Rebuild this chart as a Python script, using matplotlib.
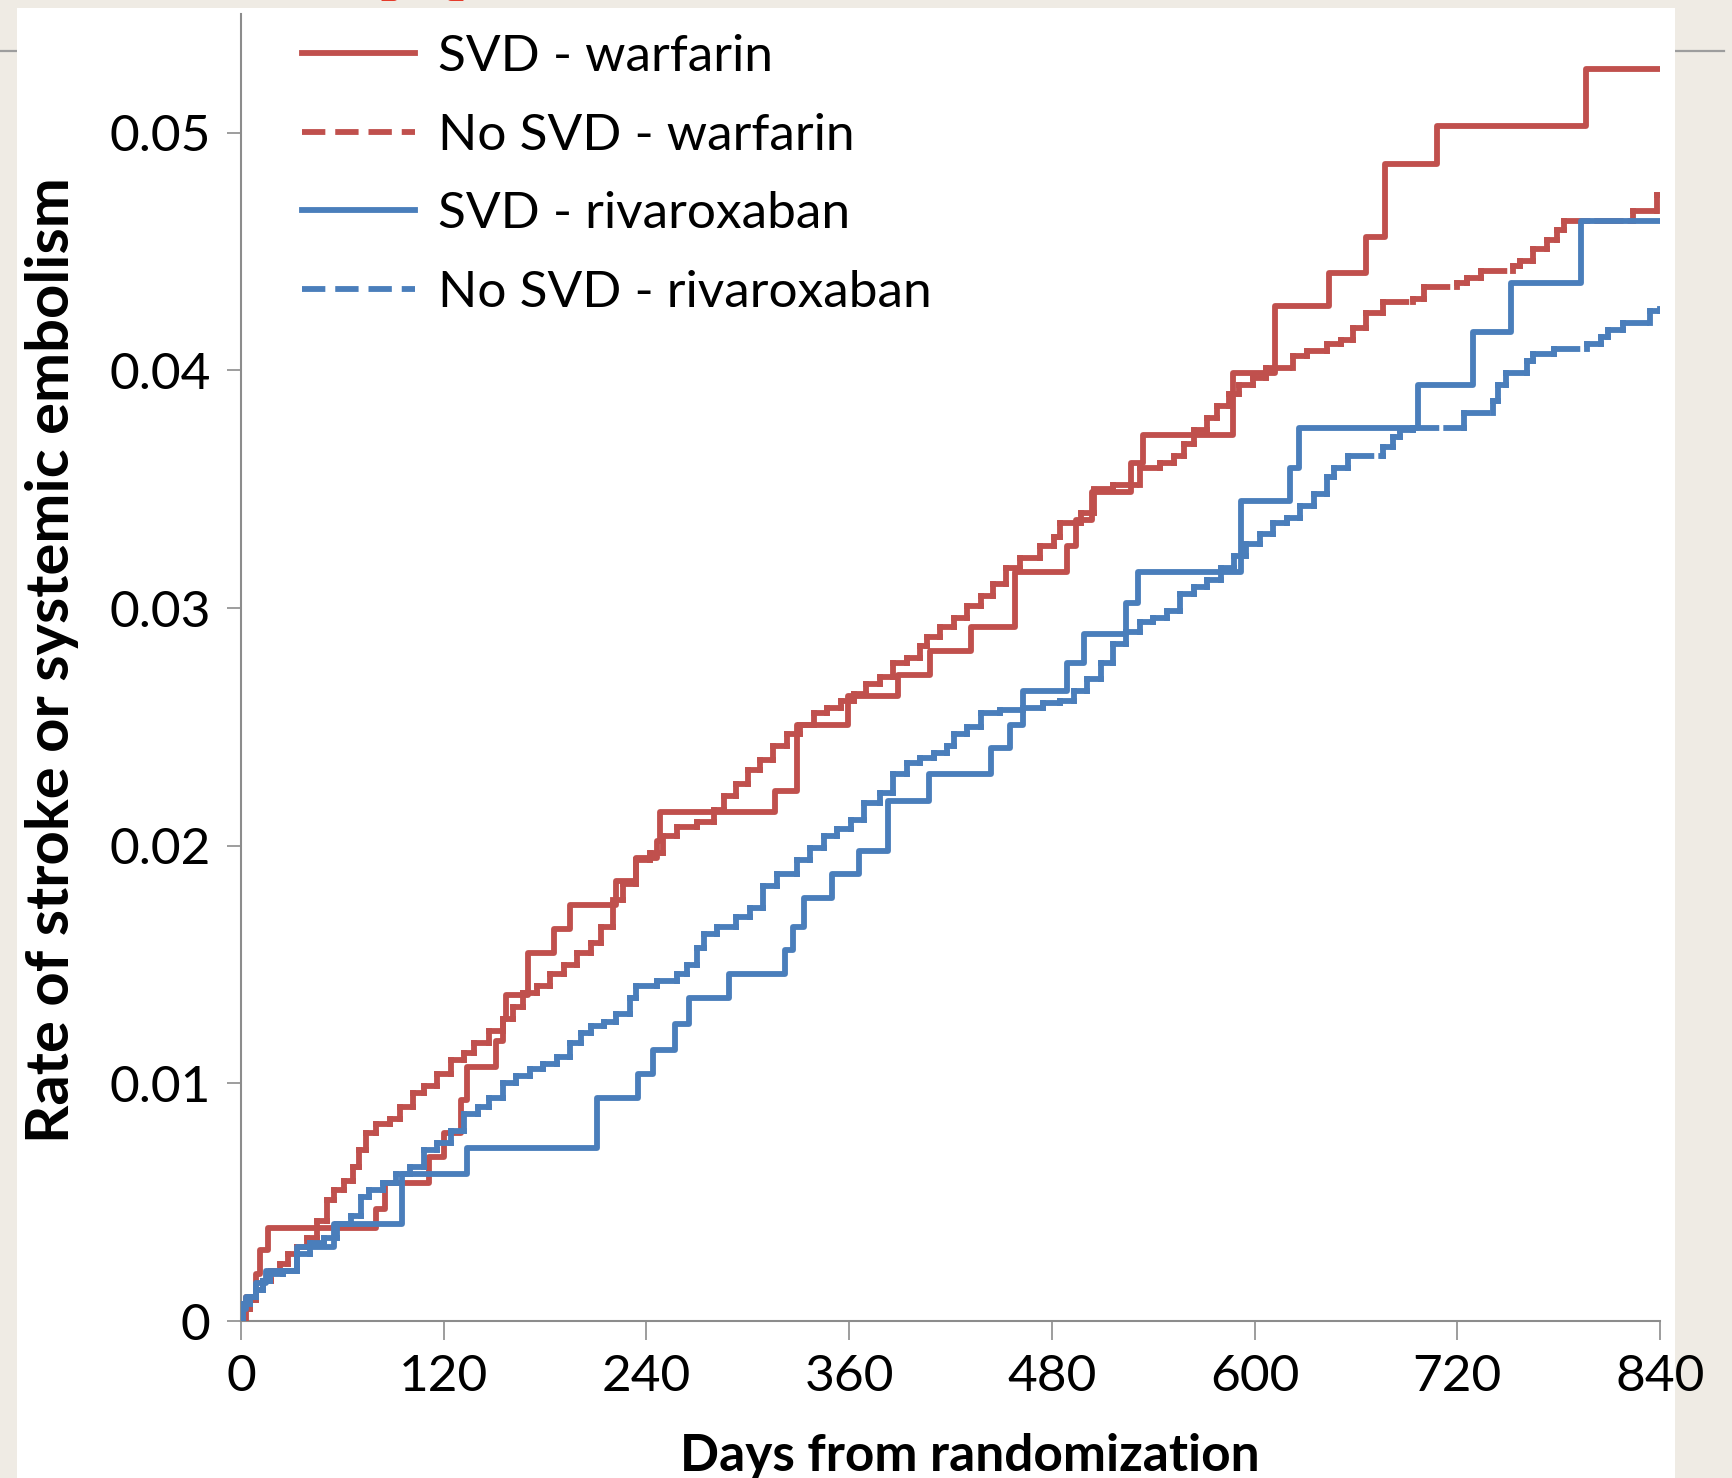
import matplotlib
matplotlib.use("Agg")
import matplotlib.pyplot as plt
from matplotlib.patches import Rectangle
from matplotlib.lines import Line2D
from matplotlib.collections import LineCollection

plt.rcParams['font.family'] = ['Lato', 'DejaVu Sans']

# SVD - warfarin (step events)
svd_war_days = [0, 3, 9, 11, 16, 80, 85, 111, 120, 130, 134, 151, 155, 157, 170, 185, 195,
                222, 234, 246, 248, 316, 329, 359, 389, 408, 432, 458, 489, 494, 504, 527,
                534, 587, 612, 644, 666, 677, 708, 796, 840]
svd_war_rate = [0, 0.0010, 0.0020, 0.0030, 0.0039, 0.0047, 0.0058, 0.0069, 0.0079, 0.0093,
                0.0107, 0.0118, 0.0127, 0.0137, 0.0155, 0.0165, 0.0175, 0.0185, 0.0195,
                0.0202, 0.0214, 0.0223, 0.0251, 0.0263, 0.0272, 0.0282, 0.0292, 0.0315,
                0.0326, 0.0337, 0.0349, 0.0361, 0.0373, 0.0399, 0.0427, 0.0441, 0.0456,
                0.0487, 0.0503, 0.0527, 0.0527]

# No SVD - warfarin
nosvd_war_days = [0, 2, 5, 9, 13, 18, 23, 28, 33, 39, 45, 51, 55, 61, 66, 70, 74, 80, 88, 94,
                  102, 108, 116, 124, 132, 138, 147, 155, 161, 167, 175, 183, 191, 199, 207,
                  213, 220, 226, 234, 242, 250, 258, 270, 280, 286, 293, 300, 307, 315, 323,
                  331, 339, 347, 355, 363, 370, 378, 386, 394, 402, 406, 414, 422, 430, 438,
                  445, 453, 461, 473, 481, 485, 497, 505, 516, 532, 544, 552, 558, 564, 572,
                  578, 585, 591, 599, 607, 623, 631, 643, 651, 658, 666, 676, 694, 700, 720,
                  726, 734, 753, 757, 765, 773, 779, 783, 824, 838, 840]
nosvd_war_rate = [0, 0.0005, 0.0009, 0.0013, 0.0017, 0.0021, 0.0024, 0.0028, 0.0031, 0.0035,
                  0.0042, 0.0051, 0.0055, 0.0059, 0.0065, 0.0072, 0.0079, 0.0083, 0.0085,
                  0.0090, 0.0096, 0.0099, 0.0104, 0.0110, 0.0113, 0.0117, 0.0122, 0.0127,
                  0.0132, 0.0138, 0.0141, 0.0146, 0.0150, 0.0155, 0.0159, 0.0166, 0.0177,
                  0.0184, 0.0194, 0.0197, 0.0204, 0.0208, 0.0210, 0.0215, 0.0221, 0.0226,
                  0.0232, 0.0236, 0.0242, 0.0247, 0.0251, 0.0256, 0.0258, 0.0261, 0.0264,
                  0.0268, 0.0271, 0.0277, 0.0279, 0.0284, 0.0288, 0.0292, 0.0296, 0.0301,
                  0.0305, 0.0310, 0.0317, 0.0321, 0.0326, 0.0330, 0.0336, 0.0340, 0.0350,
                  0.0352, 0.0359, 0.0361, 0.0364, 0.0369, 0.0375, 0.0380, 0.0385, 0.0390,
                  0.0394, 0.0397, 0.0401, 0.0406, 0.0408, 0.0411, 0.0413, 0.0418, 0.0424,
                  0.0429, 0.0430, 0.0435, 0.0437, 0.0439, 0.0442, 0.0444, 0.0446, 0.0451,
                  0.0455, 0.0459, 0.0463, 0.0467, 0.0474, 0.0474]

# SVD - rivaroxaban
svd_riv_days = [0, 1, 3, 9, 15, 33, 55, 95, 134, 211, 235, 244, 257, 265, 289, 322, 327, 333,
                350, 366, 383, 407, 444, 455, 463, 489, 499, 524, 531, 592, 621, 626, 697,
                729, 752, 793, 840]
svd_riv_rate = [0, 0.0005, 0.0010, 0.0016, 0.0021, 0.0031, 0.0041, 0.0062, 0.0073, 0.0094,
                0.0104, 0.0114, 0.0125, 0.0136, 0.0146, 0.0156, 0.0166, 0.0178, 0.0188,
                0.0198, 0.0219, 0.0230, 0.0241, 0.0251, 0.0265, 0.0277, 0.0289, 0.0302,
                0.0315, 0.0345, 0.0359, 0.0376, 0.0394, 0.0416, 0.0437, 0.0463, 0.0463]

# No SVD - rivaroxaban
nosvd_riv_days = [0, 1, 5, 9, 13, 17, 25, 33, 41, 49, 57, 65, 71, 76, 84, 92, 100, 108, 116,
                  124, 132, 140, 147, 155, 163, 171, 179, 187, 195, 201, 207, 215, 222, 230,
                  234, 246, 258, 264, 270, 274, 282, 293, 301, 309, 317, 329, 337, 345, 353,
                  361, 369, 378, 386, 394, 402, 410, 418, 422, 430, 438, 449, 463, 475, 485,
                  493, 501, 509, 516, 524, 532, 540, 548, 556, 564, 572, 580, 588, 595, 603,
                  611, 619, 627, 635, 643, 647, 655, 676, 682, 686, 694, 724, 741, 744, 749,
                  761, 765, 777, 797, 805, 809, 818, 834, 840]
nosvd_riv_rate = [0, 0.0007, 0.0010, 0.0013, 0.0017, 0.0020, 0.0021, 0.0028, 0.0033, 0.0035,
                  0.0041, 0.0044, 0.0052, 0.0055, 0.0058, 0.0062, 0.0065, 0.0072, 0.0075,
                  0.0080, 0.0087, 0.0090, 0.0094, 0.0100, 0.0103, 0.0106, 0.0108, 0.0111,
                  0.0117, 0.0121, 0.0124, 0.0126, 0.0129, 0.0136, 0.0141, 0.0143, 0.0146,
                  0.0150, 0.0157, 0.0163, 0.0166, 0.0170, 0.0174, 0.0183, 0.0188, 0.0194,
                  0.0199, 0.0204, 0.0207, 0.0211, 0.0218, 0.0222, 0.0230, 0.0235, 0.0237,
                  0.0239, 0.0242, 0.0247, 0.0250, 0.0256, 0.0257, 0.0258, 0.0260, 0.0261,
                  0.0265, 0.0270, 0.0277, 0.0285, 0.0290, 0.0294, 0.0296, 0.0299, 0.0306,
                  0.0309, 0.0312, 0.0317, 0.0322, 0.0327, 0.0331, 0.0336, 0.0338, 0.0343,
                  0.0348, 0.0355, 0.0359, 0.0364, 0.0368, 0.0372, 0.0375, 0.0376, 0.0382,
                  0.0387, 0.0394, 0.0399, 0.0404, 0.0407, 0.0409, 0.0411, 0.0414, 0.0417,
                  0.0420, 0.0425, 0.0426]

labels = ["SVD - warfarin", "No SVD - warfarin", "SVD - rivaroxaban", "No SVD - rivaroxaban"]
red = "#c0504d"
blue = "#4a7ebb"
lw = 4.2
dash = (0, (4.0, 1.7))
tick_x = [0, 120, 240, 360, 480, 600, 720, 840]
tick_y = [0, 0.01, 0.02, 0.03, 0.04, 0.05]
tick_y_labels = ["0", "0.01", "0.02", "0.03", "0.04", "0.05"]


def step_pieces(days, rate):
    # every horizontal and vertical piece on its own, so the dashes restart (like Excel)
    pieces = []
    for i in range(len(days) - 1):
        pieces.append([(days[i], rate[i]), (days[i + 1], rate[i])])
        if rate[i + 1] != rate[i]:
            pieces.append([(days[i + 1], rate[i]), (days[i + 1], rate[i + 1])])
    return pieces


fig = plt.figure(figsize=(17.33, 14.78), dpi=100, facecolor="#efebe4")

fig.add_artist(Line2D([0, 0.995], [0.9655, 0.9655], transform=fig.transFigure,
                      color="#9d9d9d", lw=1.6, zorder=-3))
fig.add_artist(Rectangle((0.0098, 0), 0.957, 0.9946, transform=fig.transFigure,
                         facecolor="white", edgecolor="none", zorder=-1))
# slide title "A)", cut off by the top edge: only the feet of the glyphs show
fig.text(0.2204, 0.9990, "A", color="#e53a2a", fontsize=84, fontweight="bold",
         ha="left", va="baseline")
fig.text(0.2735, 1.0135, ")", color="#e53a2a", fontsize=84, fontweight="bold",
         ha="left", va="baseline")

ax = fig.add_axes([0.1391, 0.1062, 0.8188, 0.8843])
ax.set_facecolor("white")

ax.step(svd_war_days, svd_war_rate, where="post", color=red, lw=lw, zorder=3)
ax.add_collection(LineCollection(step_pieces(nosvd_war_days, nosvd_war_rate), colors=red,
                                 linewidths=lw, linestyles=[dash], capstyle="projecting",
                                 zorder=3))
ax.step(svd_riv_days, svd_riv_rate, where="post", color=blue, lw=lw, zorder=3)
ax.add_collection(LineCollection(step_pieces(nosvd_riv_days, nosvd_riv_rate), colors=blue,
                                 linewidths=lw, linestyles=[dash], capstyle="projecting",
                                 zorder=3))

ax.set_xlim(0, 840)
ax.set_ylim(0, 0.055)
ax.set_xticks(tick_x)
ax.set_yticks(tick_y)
ax.set_yticklabels(tick_y_labels)

for side in ["top", "right"]:
    ax.spines[side].set_visible(False)
for side in ["left", "bottom"]:
    ax.spines[side].set_color("#8c8c8c")
    ax.spines[side].set_linewidth(1.5)
ax.tick_params(axis="x", direction="out", length=13.5, width=1.2, color="#8c8c8c",
               labelsize=37, pad=10)
ax.tick_params(axis="y", direction="out", length=10, width=1.2, color="#8c8c8c",
               labelsize=37, pad=12)

handles = [Line2D([], [], color=red, lw=lw),
           Line2D([], [], color=red, lw=lw, linestyle=dash),
           Line2D([], [], color=blue, lw=lw),
           Line2D([], [], color=blue, lw=lw, linestyle=dash)]
ax.legend(handles, labels, loc="upper left", bbox_to_anchor=(0.043, 0.985), frameon=False,
          fontsize=37, handlelength=2.2, handletextpad=0.44, labelspacing=0.64,
          borderaxespad=0, borderpad=0)

fig.text(0.030, 0.5535, "Rate of stroke or systemic embolism", rotation=90, fontsize=43,
         fontweight="bold", ha="center", va="center")
fig.text(0.5595, 0.0145, "Days from randomization", fontsize=37, fontweight="bold",
         ha="center", va="center")

fig.savefig("out.png", dpi=100, facecolor=fig.get_facecolor())
